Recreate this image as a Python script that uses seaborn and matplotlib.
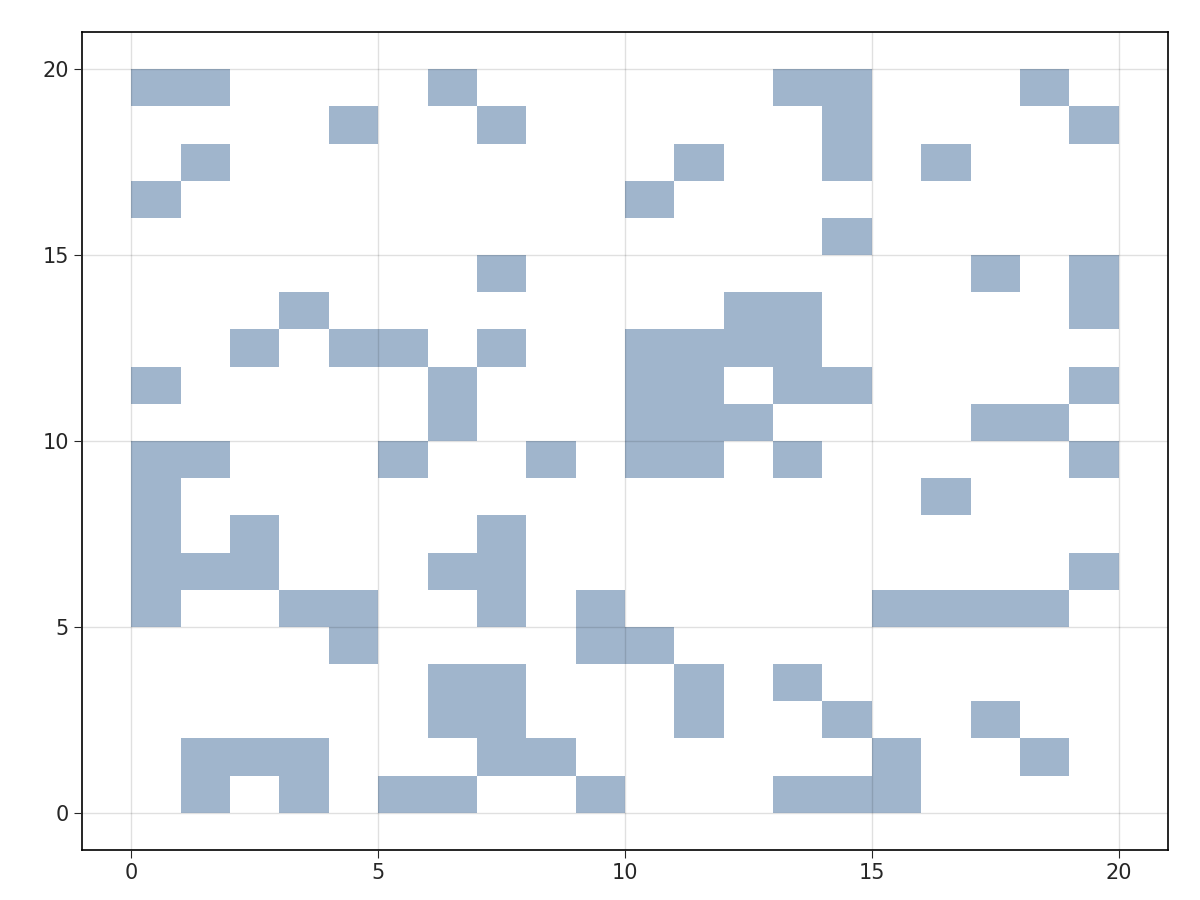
import numpy as np
import matplotlib
matplotlib.use("Agg")
import matplotlib.pyplot as plt
from matplotlib.colors import ListedColormap
import seaborn as sns

# filled cells per row: y -> list of x (each cell spans [x, x+1] x [y, y+1])
rows = {
    19: [0, 1, 6, 13, 14, 18],
    18: [4, 7, 14, 19],
    17: [1, 11, 14, 16],
    16: [0, 10],
    15: [14],
    14: [7, 17, 19],
    13: [3, 12, 13, 19],
    12: [2, 4, 5, 7, 10, 11, 12, 13],
    11: [0, 6, 10, 11, 13, 14, 19],
    10: [6, 10, 11, 12, 17, 18],
    9: [0, 1, 5, 8, 10, 11, 13, 19],
    8: [0, 16],
    7: [0, 2, 7],
    6: [0, 1, 2, 6, 7, 19],
    5: [0, 3, 4, 7, 9, 15, 16, 17, 18],
    4: [4, 9, 10],
    3: [6, 7, 11, 13],
    2: [6, 7, 11, 14, 17],
    1: [1, 2, 3, 7, 8, 15, 18],
    0: [1, 3, 5, 6, 9, 13, 14, 15],
}
xs = [x + 0.5 for y, r in rows.items() for x in r]
ys = [y + 0.5 for y, r in rows.items() for x in r]

sns.set_style("white")
fig = plt.figure(figsize=(12, 9), dpi=100)
ax = fig.add_axes([82 / 1200, 50 / 900, 1086 / 1200, 818 / 900])

sns.histplot(x=xs, y=ys, binwidth=1, binrange=(0, 20), ax=ax,
             cmap=ListedColormap(["#a0b5cc"]), zorder=2)

ax.set_xlim(-1, 21)
ax.set_ylim(-1, 21)
ax.set_xticks([0, 5, 10, 15, 20])
ax.set_yticks([0, 5, 10, 15, 20])
ax.grid(True, color="#000000", alpha=0.12, linewidth=1, zorder=3)
ax.set_axisbelow(False)
ax.set_xlabel("")
ax.set_ylabel("")
for s in ax.spines.values():
    s.set_color("black")
    s.set_linewidth(1.2)
ax.tick_params(labelsize=15, length=6, direction="out", left=True, bottom=True)

fig.savefig("out.png", dpi=100)
